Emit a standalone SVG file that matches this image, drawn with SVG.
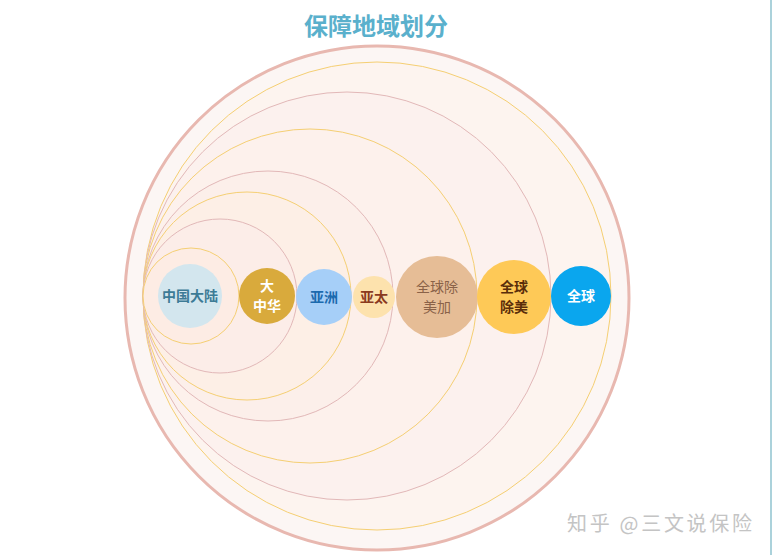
<svg xmlns="http://www.w3.org/2000/svg" width="773" height="555" viewBox="0 0 773 555">
<style>
.ring{stroke-width:1}
.y{stroke:#f5cf73}
.p{stroke:#e2b8b8}
.t{font-family:"Noto Sans CJK SC","Liberation Sans",sans-serif;text-anchor:middle;font-weight:bold;font-size:14px}
.n{font-weight:normal}
</style>
<rect width="773" height="555" fill="#ffffff"/>
<line x1="771" y1="0" x2="771" y2="555" stroke="#8fc3cf" stroke-width="1.5"/>
<text class="t" x="376" y="35" style="font-size:24px" fill="#5ab0cc">保障地域划分</text>
<g id="rings">
<circle cx="377" cy="298" r="252" fill="#fcf6f4" stroke="#e8b8b0" stroke-width="3"/>
<circle cx="377" cy="296" r="234" fill="#fdf4ef" class="ring y"/>
<circle cx="347" cy="296" r="204" fill="#fcf1ee" class="ring p"/>
<circle cx="310" cy="296" r="167" fill="#fdf1ec" class="ring y"/>
<circle cx="268" cy="296" r="125" fill="#fcefea" class="ring p"/>
<circle cx="247" cy="296" r="104" fill="#fdefe6" class="ring y"/>
<circle cx="220" cy="296" r="77" fill="#fcede8" class="ring p"/>
<circle cx="191" cy="296" r="48" fill="#fdece4" class="ring y"/>
</g>
<g id="n-china">
<circle cx="190" cy="296" r="32" fill="#d3e6ee"/>
<text class="t" x="190" y="301" fill="#3d7b96">中国大陆</text>
</g>
<g id="n-greater-china">
<circle cx="267" cy="296" r="28" fill="#d9aa3c"/>
<text class="t" x="267" y="291" fill="#ffffff">大</text>
<text class="t" x="267" y="311" fill="#ffffff">中华</text>
</g>
<g id="n-asia">
<circle cx="324" cy="297" r="28" fill="#a6cff8"/>
<text class="t" x="324" y="302" fill="#1b6aae">亚洲</text>
</g>
<g id="n-apac">
<circle cx="374" cy="297" r="21" fill="#fde2ad"/>
<text class="t" x="374" y="302" fill="#8b3a1e">亚太</text>
</g>
<g id="n-global-ex-usca">
<circle cx="437" cy="297" r="41" fill="#e6bd96"/>
<text class="t n" x="437" y="292" fill="#8a6248">全球除</text>
<text class="t n" x="437" y="312" fill="#8a6248">美加</text>
</g>
<g id="n-global-ex-us">
<circle cx="514" cy="297" r="37" fill="#fec957"/>
<text class="t" x="514" y="292" fill="#5a2d0a">全球</text>
<text class="t" x="514" y="312" fill="#5a2d0a">除美</text>
</g>
<g id="n-global">
<circle cx="581" cy="296" r="30" fill="#0aa6ee"/>
<text class="t" x="581" y="301" fill="#ffffff">全球</text>
</g>
<text x="567" y="531" font-family="Noto Sans CJK SC,Liberation Sans,sans-serif" font-size="20" textLength="185" lengthAdjust="spacing" fill="#c4c4c4">知乎 @三文说保险</text>
</svg>
